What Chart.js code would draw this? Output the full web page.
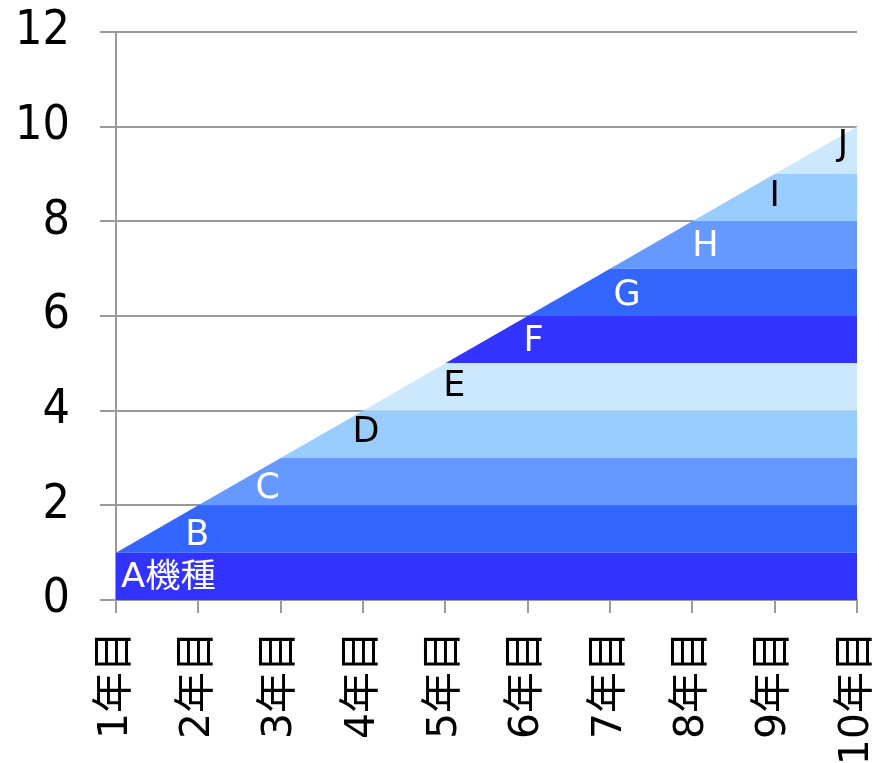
<!DOCTYPE html>
<html>
<head>
<meta charset="utf-8">
<script src="https://cdn.jsdelivr.net/npm/chart.js@4/dist/chart.umd.min.js"></script>
<style>
  html, body { margin: 0; padding: 0; background: #fff; }
  #wrap { width: 879px; height: 763px; }
</style>
</head>
<body>
<div id="wrap"><canvas id="c" width="879" height="763"></canvas></div>
<script>
// Categories (years) and the units added each year, one series per model
const years = ['1年目','2年目','3年目','4年目','5年目','6年目','7年目','8年目','9年目','10年目'];
const seriesNames = ['A機種','B','C','D','E','F','G','H','I','J'];
const modelA = [1,1,1,1,1,1,1,1,1,1];
const modelB = [0,1,1,1,1,1,1,1,1,1];
const modelC = [0,0,1,1,1,1,1,1,1,1];
const modelD = [0,0,0,1,1,1,1,1,1,1];
const modelE = [0,0,0,0,1,1,1,1,1,1];
const modelF = [0,0,0,0,0,1,1,1,1,1];
const modelG = [0,0,0,0,0,0,1,1,1,1];
const modelH = [0,0,0,0,0,0,0,1,1,1];
const modelI = [0,0,0,0,0,0,0,0,1,1];
const modelJ = [0,0,0,0,0,0,0,0,0,1];
const yTicks = [0,2,4,6,8,10,12];

const seriesValues = [modelA, modelB, modelC, modelD, modelE, modelF, modelG, modelH, modelI, modelJ];
const fills = ['#3333FF','#3366FF','#6699FF','#99CCFF','#CCE8FF','#3333FF','#3366FF','#6699FF','#99CCFF','#CCE8FF'];
const textColors = ['#fff','#fff','#fff','#000','#000','#fff','#fff','#fff','#000','#000'];
// small nudges (px) for each band's name label
const labelDx = [0, -1, -13, 3, 9, 6, 17, 13, 0, -14];
const labelDy = [2, 7, 7, -1, 0, 2, 4, 2, -1, -4];

const FONT = "'DejaVu Sans', Verdana, 'Noto Sans CJK JP', sans-serif";
const GRID = '#9a9a9a';

const datasets = seriesValues.map((vals, i) => ({
  label: seriesNames[i],
  data: vals,
  backgroundColor: fills[i],
  borderColor: fills[i],
  borderWidth: 0,
  pointRadius: 0,
  tension: 0,
  fill: i === 0 ? 'origin' : '-1'
}));

// Draws each model's name near where its band begins
const bandLabels = {
  id: 'bandLabels',
  afterDatasetsDraw(chart) {
    const { ctx, scales: { x, y } } = chart;
    ctx.save();
    ctx.textBaseline = 'middle';
    seriesNames.forEach((name, i) => {
      // band i lies between i and i+1 once it has started
      let base = 0;
      for (let k = 0; k < i; k++) base += seriesValues[k][i];
      const cy = y.getPixelForValue(base + seriesValues[i][i] / 2) + labelDy[i];
      ctx.fillStyle = textColors[i];
      if (i === 0) {
        ctx.save();
        ctx.font = '33px ' + FONT;
        ctx.textAlign = 'left';
        ctx.translate(x.getPixelForValue(0) + 5, cy);
        ctx.scale(1.07, 1);
        ctx.fillText(name, 0, 0);
        ctx.restore();
      } else {
        ctx.font = '35px ' + FONT;
        ctx.textAlign = 'center';
        ctx.fillText(name, x.getPixelForValue(i) + labelDx[i], cy);
      }
    });
    ctx.restore();
  }
};

// keep the plot area fixed: axes do not reserve extra room for overhanging labels
function noOverhang(scale) {
  scale.paddingTop = 0; scale.paddingBottom = 0;
  scale.paddingLeft = 0; scale.paddingRight = 0;
}

new Chart(document.getElementById('c'), {
  type: 'line',
  data: { labels: years, datasets },
  options: {
    responsive: false,
    animation: false,
    layout: { padding: { top: 32, right: 22, left: 0, bottom: 0 } },
    plugins: { legend: { display: false }, tooltip: { enabled: false } },
    elements: { line: { borderWidth: 0 } },
    scales: {
      x: {
        offset: false,
        grid: { drawOnChartArea: false, drawTicks: true, tickLength: 13, color: GRID, lineWidth: 2 },
        border: { display: true, color: GRID, width: 2 },
        ticks: {
          autoSkip: false, minRotation: 90, maxRotation: 90,
          color: '#000', padding: 18,
          font: { size: 41, family: FONT }
        },
        afterFit(scale) { scale.height = 163; noOverhang(scale); }
      },
      y: {
        stacked: true,
        min: 0, max: 12,
        afterBuildTicks(scale) { scale.ticks = yTicks.map(v => ({ value: v })); },
        grid: { drawTicks: true, tickLength: 16, color: GRID, lineWidth: 2 },
        border: { display: true, color: GRID, width: 2 },
        ticks: {
          color: '#000', padding: 30,
          font: { size: 48, family: "'DejaVu Sans Condensed', " + FONT }
        },
        afterFit(scale) { scale.width = 116; noOverhang(scale); }
      }
    }
  },
  plugins: [bandLabels]
});
</script>
</body>
</html>
